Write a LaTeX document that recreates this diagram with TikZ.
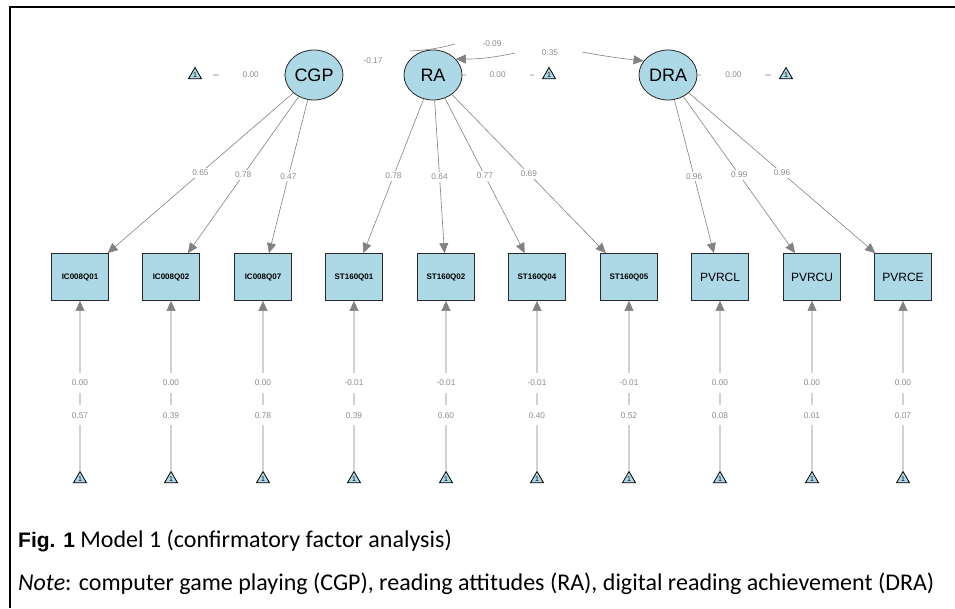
\documentclass[tikz,border=0pt]{standalone}
\usepackage{fontspec}
\setmainfont{Carlito}
\newfontfamily\arialf{Liberation Sans}
\usetikzlibrary{arrows.meta,shapes.geometric}
\definecolor{lblue}{RGB}{173,216,230}
\definecolor{egray}{RGB}{130,130,130}
\definecolor{tgray}{RGB}{140,140,140}
\definecolor{bdark}{RGB}{40,40,40}
\tikzset{
 latent/.style={ellipse, draw=bdark, line width=0.8pt, fill=lblue, minimum width=58pt, minimum height=50pt, inner sep=0pt, font=\arialf\fontsize{18}{18}\selectfont},
 manifest/.style={rectangle, draw=bdark, line width=0.8pt, fill=lblue, minimum width=57pt, minimum height=47pt, inner sep=0pt},
 smalllab/.style={manifest, font=\arialf\bfseries\fontsize{8}{8}\selectfont},
 biglab/.style={manifest, font=\arialf\fontsize{12}{12}\selectfont},
 tri/.style={regular polygon, regular polygon sides=3, draw=black, line width=0.8pt, fill=lblue, minimum size=15pt, inner sep=0pt, font=\arialf\fontsize{7}{7}\selectfont},
 load/.style={draw=egray, line width=0.6pt, -{Triangle[length=10pt,width=9pt]}},
 plainedge/.style={draw=egray, line width=0.6pt},
 lab/.style={fill=white, text=tgray, inner sep=2pt, font=\arialf\fontsize{8.3}{8.3}\selectfont},
 rlab/.style={lab, minimum height=20pt, inner sep=1pt},
 wlab/.style={lab, minimum width=64pt, minimum height=14pt},
}
\begin{document}
\begin{tikzpicture}[x=1pt,y=-1pt]
\useasboundingbox (0,0) rectangle (955,608);
\fill[white] (0,0) rectangle (955,608);
\draw[line width=2.5pt] (955,7) -- (10,7) -- (10,608);

% latent variables
\node[latent] (CGP) at (314,75) {CGP};
\node[latent] (RA) at (433,75) {RA};
\node[latent] (DRA) at (668,75) {DRA};

% intercept triangles (latent)
\node[tri] (t0) at (195,75) {1};
\node[tri] (t1) at (549,75) {1};
\node[tri] (t2) at (786,75) {1};

% manifest variables
\node[smalllab] (b1) at (80,277) {IC008Q01};
\node[smalllab] (b2) at (171,277) {IC008Q02};
\node[smalllab] (b3) at (263,277) {IC008Q07};
\node[smalllab] (b4) at (354,277) {ST160Q01};
\node[smalllab] (b5) at (446,277) {ST160Q02};
\node[smalllab] (b6) at (537,277) {ST160Q04};
\node[smalllab] (b7) at (629,277) {ST160Q05};
\node[biglab] (b8) at (720,277) {PVRCL};
\node[biglab] (b9) at (812,277) {PVRCU};
\node[biglab] (b10) at (903,277) {PVRCE};

% residual triangles
\foreach \i/\x in {1/80,2/171,3/263,4/354,5/446,6/537,7/629,8/720,9/812,10/903}
  \node[tri] (r\i) at (\x,479) {1};

% top row intercept lines
\draw[plainedge, shorten <=13pt] (t0) -- node[wlab,pos=0.6]{0.00} (CGP);
\draw[plainedge, shorten >=10pt] (RA) -- node[wlab,pos=0.43]{0.00} (t1);
\draw[plainedge, shorten >=10pt] (DRA) -- node[wlab,pos=0.43]{0.00} (t2);

% loadings
\draw[load] (CGP) -- node[lab]{0.65} (b1);
\draw[load] (CGP) -- node[lab]{0.78} (b2);
\draw[load] (CGP) -- node[lab]{0.47} (b3);
\draw[load] (RA) -- node[lab]{0.78} (b4);
\draw[load] (RA) -- node[lab]{0.64} (b5);
\draw[load] (RA) -- node[lab]{0.77} (b6);
\draw[load] (RA) -- node[lab]{0.69} (b7);
\draw[load] (DRA) -- node[lab]{0.96} (b8);
\draw[load] (DRA) -- node[lab]{0.99} (b9);
\draw[load] (DRA) -- node[lab]{0.96} (b10);

% residual / intercept lines
\foreach \i/\a/\b in {1/0.00/0.57,2/0.00/0.39,3/0.00/0.78,4/-0.01/0.39,5/-0.01/0.60,6/-0.01/0.40,7/-0.01/0.52,8/0.00/0.08,9/0.00/0.01,10/0.00/0.07}
  \draw[load] (r\i) -- node[rlab,pos=0.517]{\a} node[rlab,pos=0.326]{\b} (b\i);

% covariances
\coordinate (c0a) at (410,51);
\coordinate (c0b) at (455,44);
\draw[plainedge] (c0a) to[bend right=6] (c0b);
\coordinate (c1) at (515,53);
\draw[load] (c1) to[bend left=6] (RA.35);
\coordinate (c2) at (582,52);
\draw[load] (c2) to[bend right=2] (DRA.150);
\node[lab, fill=none] (l17) at (373,61) {-0.17};
\node[lab, fill=none] (l09) at (492,44) {-0.09};
\node[lab, fill=none] (l35) at (550,53) {0.35};

% caption
\node[anchor=base west, inner sep=0pt, font=\fontsize{24}{24}\selectfont] (cap1) at (18,547) {{\arialf\bfseries\fontsize{21}{21}\selectfont Fig. 1} Model 1 (confirmatory factor analysis)};
\node[anchor=base west, inner sep=0pt, font=\fontsize{24}{24}\selectfont] (cap2) at (18,590) {\textit{Note}: computer game playing (CGP), reading attitudes (RA), digital reading achievement (DRA)};
\end{tikzpicture}
\end{document}
